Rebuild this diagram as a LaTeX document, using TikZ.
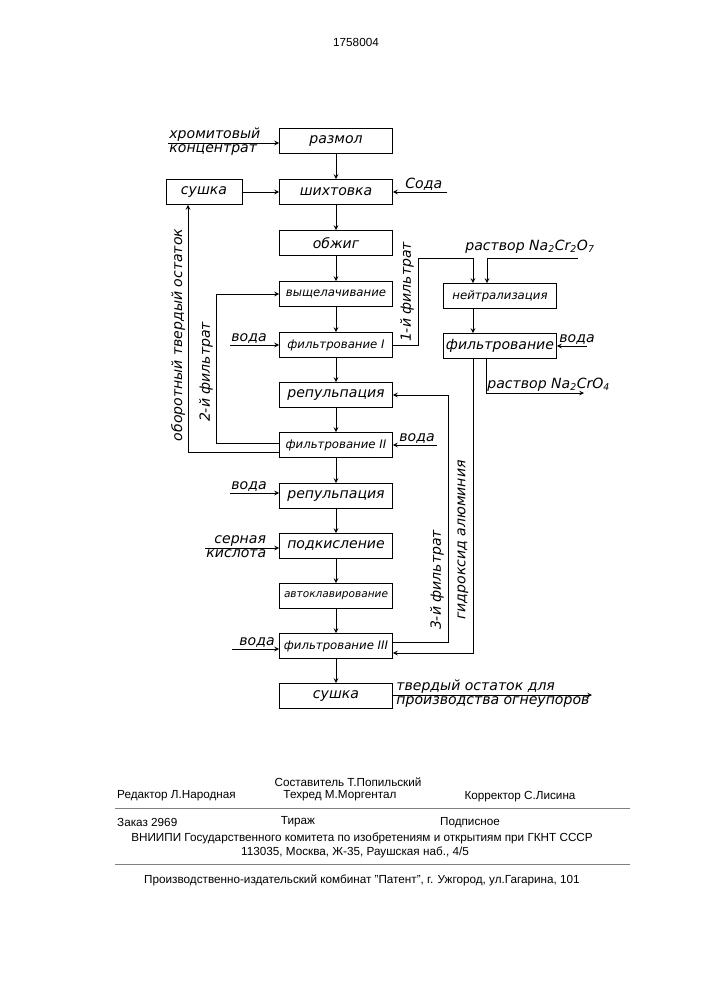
\documentclass[tikz,border=0pt]{standalone}
\usepackage{fontspec}
\setmainfont{Liberation Sans}
\newfontfamily\handfont{DejaVu Sans}
\begin{document}
\begin{tikzpicture}
		[	x=0.03cm,y=-0.03cm,
		box/.style={rectangle,draw=black,thick,minimum width=3.39cm,minimum height=0.75cm,inner sep=0pt,font=\handfont\itshape\large},
		sbox/.style={box,minimum width=2.28cm},
		lbl/.style={font=\handfont\itshape\large,inner sep=1pt},
		foot/.style={font=\fontsize{10}{12}\selectfont,inner sep=0pt},
		flow/.style={->,>=stealth,thick}
		]
		\useasboundingbox (0,0) rectangle (707,1000);
		\node[foot] (num) at (356,42){1758004};
		% main column
		\node[box] (razmol) at (336,141){размол};
		\node[box] (shikht) at (336,192){шихтовка};
		\node[box] (obzhig) at (336,243){обжиг};
		\node[box,font=\handfont\itshape\normalsize] (vysch) at (336,294){выщелачивание};
		\node[box,font=\handfont\itshape\normalsize] (filtI) at (336,345){фильтрование I};
		\node[box] (repI) at (336,395){репульпация};
		\node[box,font=\handfont\itshape\normalsize] (filtII) at (336,445){фильтрование II};
		\node[box] (repII) at (336,496){репульпация};
		\node[box] (podk) at (336,546){подкисление};
		\node[box,font=\handfont\itshape\small] (avto) at (336,596){автоклавирование};
		\node[box,font=\handfont\itshape\normalsize] (filtIII) at (336,646){фильтрование III};
		\node[box] (sushB) at (336,696){сушка};
		\node[sbox] (sushA) at (204,192){сушка};
		\node[box,font=\handfont\itshape\normalsize] (neutr) at (500,296){нейтрализация};
		\node[box] (filtN) at (500,346){фильтрование};
		\foreach \a/\b in {razmol/shikht,shikht/obzhig,obzhig/vysch,vysch/filtI,filtI/repI,repI/filtII,filtII/repII,repII/podk,podk/avto,avto/filtIII,filtIII/sushB}
			\draw[flow] (\a) -- (\b);
		\draw[flow] (neutr.south -| 473,0) -- (filtN.north -| 473,0);
		% inputs
		\coordinate (khrom) at (168,143);
		\node[lbl,anchor=south west] (khromA) at (168,143){хромитовый};
		\node[lbl,anchor=north west] (khromB) at (168,143){концентрат};
		\draw[flow] (khrom) -- (razmol.west |- khrom);
		\coordinate (soda) at (447,192);
		\node[lbl,anchor=south west] (sodaL) at (404,192){Сода};
		\draw[flow] (soda) -- (shikht.east);
		\draw[flow] (sushA) -- (shikht);
		\coordinate (vodaI) at (230,345);
		\node[lbl,anchor=south west] (vodaIL) at (230,345){вода};
		\draw[flow] (vodaI) -- (filtI.west);
		\coordinate (vodaII) at (437,445);
		\node[lbl,anchor=south west] (vodaIIL) at (398,445){вода};
		\draw[flow] (vodaII) -- (filtII.east);
		\coordinate (vodaR) at (230,493);
		\node[lbl,anchor=south west] (vodaRL) at (230,493){вода};
		\draw[flow] (vodaR) -- (repII.west |- vodaR);
		\coordinate (sera) at (205,548);
		\node[lbl,anchor=south west] (seraA) at (213,548){серная};
		\node[lbl,anchor=north west] (seraB) at (205,548){кислота};
		\draw[flow] (sera) -- (podk.west |- sera);
		\coordinate (vodaIII) at (232,649);
		\node[lbl,anchor=south west] (vodaIIIL) at (238,649){вода};
		\draw[flow] (vodaIII) -- (filtIII.west |- vodaIII);
		\coordinate (vodaN) at (587,346);
		\node[lbl,anchor=south west] (vodaNL) at (558,346){вода};
		\draw[flow] (vodaN) -- (filtN.east);
		% recycles
		\draw[flow] (filtII.west |- 0,452) -- (188,452) -- (sushA.south -| 188,0);
		\node[lbl,rotate=90] (oborot) at (178,335){оборотный твердый остаток};
		\draw[flow] (filtII.west |- 0,443) -- (216,443) -- (216,294) -- (vysch.west);
		\node[lbl,rotate=90] (filtr2) at (206,372){2-й фильтрат};
		\draw[flow] (filtI.east) -- (418,345) -- (418,258) -- (473,258) -- (neutr.north -| 473,0);
		\node[lbl,rotate=90] (filtr1) at (407,292){1-й фильтрат};
		\coordinate (bichr) at (578,258);
		\draw[flow] (bichr) -- (487,258) -- (neutr.north -| 487,0);
		\node[lbl,anchor=south] (bichrL) at (530,255){раствор Na\textsubscript{2}Cr\textsubscript{2}O\textsubscript{7}};
		\coordinate (chrom) at (584,393);
		\draw[flow] (filtN.south -| 486,0) -- (486,393) -- (chrom);
		\node[lbl,anchor=south west] (chromL) at (486,393){раствор Na\textsubscript{2}CrO\textsubscript{4}};
		\draw[flow] (filtN.south -| 473,0) -- (473,653) -- (filtIII.east |- 0,653);
		\node[lbl,rotate=90] (gidr) at (463,540){гидроксид алюминия};
		\draw[flow] (filtIII.east |- 0,642) -- (448,642) -- (448,395) -- (repI.east);
		\node[lbl,rotate=90] (filtr3) at (437,580){3-й фильтрат};
		\coordinate (ogn) at (592,695);
		\draw[flow] (sushB.east |- ogn) -- (ogn);
		\node[lbl,anchor=south west] (ognA) at (395,695){твердый остаток для};
		\node[lbl,anchor=north west] (ognB) at (395,695){производства огнеупоров};
		% footer
		\node[foot] (sost) at (348,782){Составитель Т.Попильский};
		\node[foot,anchor=west] (red) at (117,796){Редактор Л.Народная};
		\node[foot] (tekh) at (340,796){Техред М.Моргентал};
		\node[foot] (korr) at (520,797){Корректор С.Лисина};
		\draw[thin,gray] (115,808) -- (630,808);
		\node[foot,anchor=west] (zak) at (117,822){Заказ 2969};
		\node[foot] (tir) at (298,822){Тираж};
		\node[foot] (podp) at (470,823){Подписное};
		\node[foot] (vni) at (362,838){ВНИИПИ Государственного комитета по изобретениям и открытиям при ГКНТ СССР};
		\node[foot] (addr) at (355,852){113035, Москва, Ж-35, Раушская наб., 4/5};
		\draw[thin,gray] (115,864) -- (630,864);
		\node[foot] (pat) at (362,880){Производственно-издательский комбинат "Патент", г. Ужгород, ул.Гагарина, 101};
	\end{tikzpicture}
\end{document}
